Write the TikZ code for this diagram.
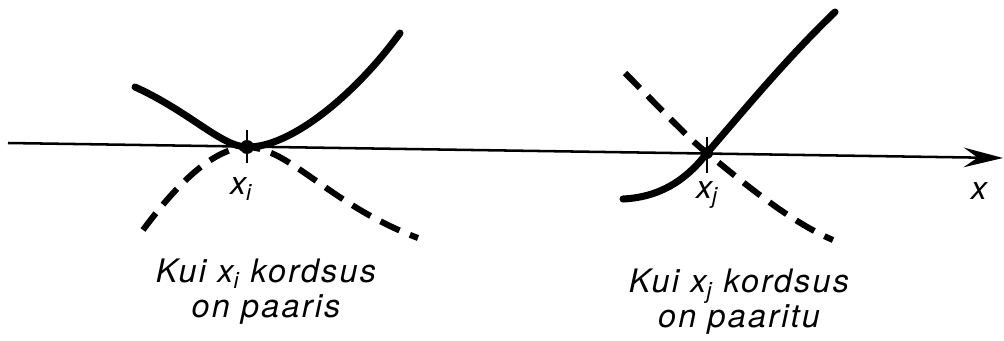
\documentclass[tikz,border=0pt]{standalone}
\usepackage{fontspec}
\setmainfont{TeX Gyre Heros}[LetterSpace=7]
\usetikzlibrary{arrows.meta}

\begin{document}
\begin{tikzpicture}[x=0.025cm,y=-0.025cm,>={Stealth[length=28pt,width=14pt,inset=10pt]}]
  \tikzstyle{curve}=[line width=5pt, line cap=round]
  \tikzstyle{dashcurve}=[line width=4.3pt, dash pattern=on 15pt off 8pt]
  \tikzstyle{lbl}=[font=\fontsize{23}{25}\selectfont\itshape, align=center]
  \useasboundingbox (0,0) rectangle (1004,341);

  \coordinate (axl) at (8,143);
  \coordinate (axr) at (1003,158);
  \coordinate (xi) at (247,147);
  \coordinate (xj) at (707,153);

  \draw[line width=1.8pt,->] (axl) -- (axr);

  % even multiplicity
  \draw[curve] (135,87) .. controls (190,112) and (222,147) .. (xi)
    .. controls (290,148) and (355,95) .. (400,33);
  \draw[dashcurve] (143,230) .. controls (180,180) and (215,148) .. (xi)
    .. controls (290,148) and (330,205) .. (418,238);
  \draw[line width=1.8pt] (247,130) -- (247,163);
  \fill (xi) circle (7);

  % odd multiplicity
  \draw[curve] (623,199) .. controls (665,197) and (690,175) .. (xj)
    .. controls (740,115) and (785,60) .. (835,12);
  \draw[dashcurve] (625,73) .. controls (660,108) and (690,140) .. (xj)
    .. controls (740,180) and (790,222) .. (833,240);
  \draw[line width=1.8pt] (707,137) -- (707,173);
  \fill (xj) circle (6);

  \node[lbl] (labi) at (241,189) {x\textsubscript{i}};
  \node[lbl] (labj) at (707,195) {x\textsubscript{j}};
  \node[lbl] (labx) at (979,191) {x};
  \node[lbl] (capi) at (266,292) {Kui x\textsubscript{i} kordsus\\on paaris};
  \node[lbl] (capj) at (739,302) {Kui x\textsubscript{j} kordsus\\on paaritu};
\end{tikzpicture}
\end{document}
